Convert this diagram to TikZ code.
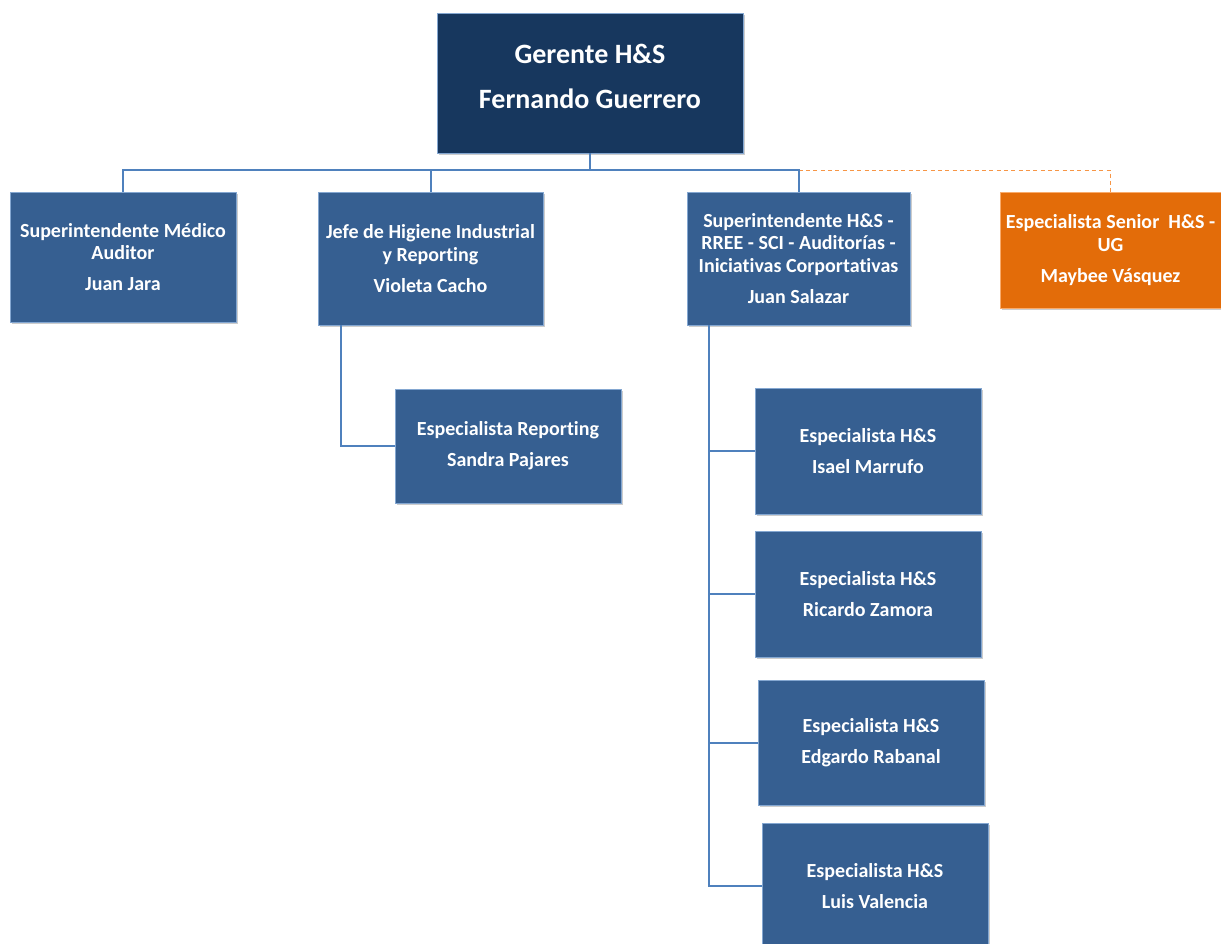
\documentclass[tikz,border=0pt]{standalone}
\usepackage{fontspec}
\setmainfont{Carlito}[Ligatures=NoCommon]
\usepackage{tikz}
\usetikzlibrary{
    calc,
    positioning,
    shadows
}
\definecolor{navy}{HTML}{17375E}
\definecolor{steel}{HTML}{365F91}
\definecolor{steelline}{HTML}{4F81BD}
\definecolor{senior}{HTML}{E36C09}
\definecolor{seniorline}{HTML}{F79646}

\begin{document}
\begin{tikzpicture}[
        x=0.75pt, y=-0.75pt,
        boxsize/.style 2 args={minimum width=#1*0.75pt, minimum height=#2*0.75pt},
        post/.style={draw=steelline!70, line width=0.6pt, fill=steel, text=white,
            inner sep=0pt, align=center, font=\fontsize{15}{17.2}\selectfont\bfseries,
            drop shadow={shadow xshift=1.2pt, shadow yshift=-1.2pt, fill=black!40, opacity=0.5}},
        link/.style={draw=steelline, line width=1.5pt},
        staff link/.style={draw=seniorline, line width=0.9pt, dash pattern=on 3pt off 2.5pt}
    ]
    \useasboundingbox (0,0) rectangle (1221,944);

    % top
    \node[post, fill=navy, boxsize={306}{140}, font=\fontsize{21}{34}\selectfont\bfseries,
        text depth=9.5pt] (boss) at (590,83) {Gerente H\&S\\Fernando Guerrero};

    % first level
    \node[post, boxsize={226}{130}] (medico) at (123,257)
        {Superintendente Médico\\Auditor\\[6pt]Juan Jara};
    \node[post, boxsize={225}{133}] (higiene) at (430.5,258.5)
        {Jefe de Higiene Industrial\\y Reporting\\[6pt]Violeta Cacho};
    \node[post, boxsize={223}{133}] (superint) at (798.5,258.5)
        {Superintendente H\&S -\\RREE - SCI - Auditorías -\\Iniciativas Corportativas\\[6pt]Juan Salazar};
    \node[post, fill=senior, draw=seniorline!80, boxsize={221}{116}] (senior) at (1110.5,250)
        {Especialista Senior\ \ H\&S -\\UG\\[6pt]Maybee Vásquez};

    % second level
    \node[post, boxsize={226}{114}] (reporting) at (508,446)
        {Especialista Reporting\\[6pt]Sandra Pajares};
    \node[post, boxsize={226}{126}] (esp1) at (868,451)
        {Especialista H\&S\\[6pt]Isael Marrufo};
    \node[post, boxsize={226}{126}] (esp2) at (868,594)
        {Especialista H\&S\\[6pt]Ricardo Zamora};
    \node[post, boxsize={226}{125}] (esp3) at (871,742.5)
        {Especialista H\&S\\[6pt]Edgardo Rabanal};
    \node[post, boxsize={226}{126}] (esp4) at (875,886)
        {Especialista H\&S\\[6pt]Luis Valencia};

    % connectors
    \coordinate (bus) at ($(boss.south)+(0,17)$);
    \draw[staff link] (superint.north |- bus) -| (senior.north);
    \draw[link] (boss.south) -- (bus);
    \foreach \p in {medico,higiene,superint} {
        \draw[link] (bus) -| (\p.north);
    }
    \draw[link] ($(higiene.south west)+(23,0)$) |- (reporting.west);
    \foreach \e in {esp1,esp2,esp3,esp4} {
        \draw[link] ($(superint.south west)+(22,0)$) |- (\e.west);
    }

\end{tikzpicture}
\end{document}
